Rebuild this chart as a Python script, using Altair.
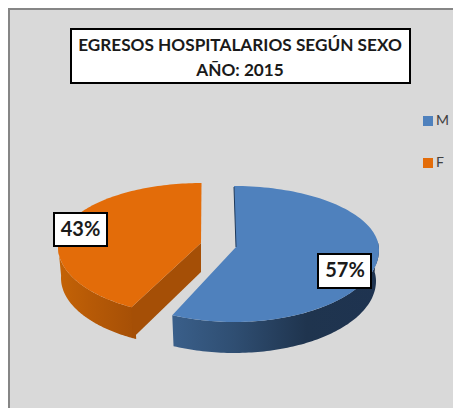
import numpy as np
import pandas as pd
import altair as alt

# ---- chart values ----
categories = ["M", "F"]
shares = [57, 43]
title_lines = ["EGRESOS HOSPITALARIOS SEGÚN SEXO", "AÑO: 2015"]
colors = ["#4f81bd", "#e36c09"]

W, H = 445, 400          # the page keeps the svg within 445 px
FONT = "Lato"
xs = alt.Scale(domain=[8, 453], range=[0, W])
ys = alt.Scale(domain=[8, 408], range=[0, H])
X = alt.X("x:Q", scale=xs, axis=None)
Y = alt.Y("y:Q", scale=ys, axis=None)


def ell(theta, g):
    t = np.radians(theta)
    ry = np.where(np.cos(t) > 0, g["ryt"], g["ryb"])
    return g["cx"] + g["rx"] * np.sin(t), g["cy"] - ry * np.cos(t)


def frame(px, py):
    return pd.DataFrame({"x": px, "y": py, "i": np.arange(len(px))})


split = shares[0] / sum(shares) * 360
skew_f = 4               # perspective: the exploded slice's edge looks rotated a little
geo_m = dict(cx=234, cy=250, rx=145, ryt=64, ryb=72, ax=236, ay=247)
geo_f = dict(cx=201.5, cy=247, rx=143.5, ryt=64, ryb=69, ax=201, ay=243)
DEPTH = 31


def top(theta0, theta1, g, cat):
    th = np.linspace(theta0, theta1, 120)
    px, py = ell(th, g)
    d = frame(np.r_[g["ax"], px, g["ax"]], np.r_[g["ay"], py, g["ay"]])
    d["sexo"] = cat
    return d


def side(theta0, theta1, g):
    th = np.linspace(theta0, theta1, 100)
    px, py = ell(th, g)
    low = dict(g, rx=g["rx"] - 3)
    bx, by = ell(th, low)
    return frame(np.r_[px, bx[::-1]], np.r_[py, by[::-1] + DEPTH])


def poly(df, fill):
    return alt.Chart(df).mark_line(fill=fill, strokeWidth=0, interpolate="linear").encode(
        x=X, y=Y, order="i:Q")


def grad(stops, x0=0, x1=1):
    return alt.LinearGradient(
        gradient="linear", x1=x0, x2=x1, y1=0, y2=0,
        stops=[alt.GradientStop(offset=o, color=c) for o, c in stops])


fx, fy = ell(np.array([split + skew_f]), geo_f)
cut_f = frame([geo_f["ax"], fx[0], fx[0] + 1, geo_f["ax"]],
              [geo_f["ay"], fy[0], fy[0] + DEPTH, geo_f["ay"] + DEPTH - 2])

side_f = poly(side(split + skew_f - 1.5, 272, geo_f),
              grad([(0, "#a54f06"), (0.6, "#b75a06"), (1, "#c46306")], 1, 0))
side_cut = poly(cut_f, "#a54f06")
side_m = poly(side(82, split, geo_m),
              grad([(0, "#1e3350"), (0.35, "#1f344e"), (0.7, "#2f4e72"), (1, "#3a5f8a")], 1, 0))

tops = pd.concat([top(0, split, geo_m, categories[0]),
                  top(split + skew_f, 360, geo_f, categories[1])])
tops_layer = alt.Chart(tops).mark_line(strokeWidth=0).encode(
    x=X, y=Y, order="i:Q",
    fill=alt.Fill("sexo:N",
                  scale=alt.Scale(domain=categories, range=colors),
                  legend=alt.Legend(orient="none", legendX=413, legendY=106, title=None,
                                    symbolType="square", symbolSize=100, symbolStrokeWidth=0,
                                    labelFont=FONT, labelFontSize=14, labelColor="#404040",
                                    labelOffset=1, rowPadding=28, padding=0)),
)
edge = alt.Chart(frame([234, 236], [187, 247])).mark_line(color="#1f3a5c", strokeWidth=1).encode(
    x=X, y=Y, order="i:Q")

border_l = alt.Chart(pd.DataFrame({"x": [8], "x2": [10], "y": [8], "y2": [408]})).mark_rect(
    color="#868686").encode(x=X, x2="x2:Q", y=Y, y2="y2:Q")
border_t = alt.Chart(pd.DataFrame({"x": [8], "x2": [453], "y": [8], "y2": [10]})).mark_rect(
    color="#868686").encode(x=X, x2="x2:Q", y=Y, y2="y2:Q")

title_box = alt.Chart(pd.DataFrame({"x": [71], "x2": [410], "y": [29], "y2": [83]})).mark_rect(
    fill="white", stroke="black", strokeWidth=2).encode(x=X, x2="x2:Q", y=Y, y2="y2:Q")
title_text = alt.Chart(pd.DataFrame({"x": [240, 240], "y": [46, 71], "t": title_lines})).mark_text(
    font=FONT, fontWeight="bold", fontSize=17.2, color="#1a1a1a", align="center", baseline="middle"
).encode(x=X, y=Y, text="t:N")

lab = pd.DataFrame({
    "x": [318, 54], "x2": [371, 107], "y": [254, 213], "y2": [288, 246],
    "tx": [345, 80.5], "ty": [271, 230],
    "t": [f"{s}%" for s in shares],
})
lab_box = alt.Chart(lab).mark_rect(fill="white", stroke="black", strokeWidth=2).encode(
    x=X, x2="x2:Q", y=Y, y2="y2:Q")
lab_text = alt.Chart(lab).mark_text(
    font=FONT, fontWeight="bold", fontSize=20, color="#1a1a1a", align="center", baseline="middle"
).encode(x=alt.X("tx:Q", scale=xs, axis=None), y=alt.Y("ty:Q", scale=ys, axis=None), text="t:N")

chart = alt.layer(
    border_l, border_t, side_f, side_cut, side_m, tops_layer, edge,
    title_box, title_text, lab_box, lab_text,
).properties(
    width=W, height=H, padding=0, background="white",
    autosize=alt.AutoSizeParams(type="none"),
).configure_view(fill="#d9d9d9", stroke=None)

chart.save("out.html", embed_options={"renderer": "svg", "actions": False})
